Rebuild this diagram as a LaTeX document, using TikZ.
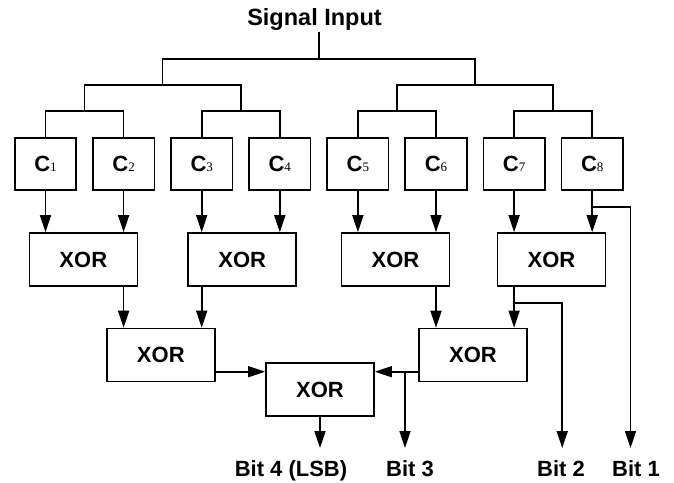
\documentclass[tikz,border=0pt]{standalone}
\usepackage{fontspec}
\setmainfont{Liberation Sans}
\newfontfamily\subfont{Liberation Serif}
\usetikzlibrary{positioning,arrows.meta,calc}

% channel label: bold C with a small serif index
\newcommand{\chan}[1]{C{\subfont\mdseries\fontsize{13}{13}\selectfont #1}}

\begin{document}
\begin{tikzpicture}[
  x=1pt, y=-1pt,
  font=\fontsize{22}{26}\selectfont\bfseries,
  cbox/.style={
    draw=black, line width=1.6pt,
    minimum width=61.5pt, minimum height=52pt,
    inner sep=0pt,
  },
  xorbox/.style={
    draw=black, line width=1.6pt,
    minimum width=108pt, minimum height=53pt,
    inner sep=0pt,
  },
  wire/.style={draw=black, line width=1.6pt},
  flow/.style={->, draw=black, line width=1.6pt, >={Triangle[length=17pt,width=11pt]}},
  lbl/.style={inner sep=0pt, anchor=base},
]
\useasboundingbox (0,0) rectangle (674,482);

% Input label
\node[lbl, inner sep=2pt, font=\fontsize{23.5}{26}\selectfont\bfseries] (sig) at (314.5,25) {Signal Input};

% Channel boxes
\node[cbox] (c1) at (45.5,164)  {\chan{1}};
\node[cbox] (c2) at (123.6,164) {\chan{2}};
\node[cbox] (c3) at (201.7,164) {\chan{3}};
\node[cbox] (c4) at (279.8,164) {\chan{4}};
\node[cbox] (c5) at (357.9,164) {\chan{5}};
\node[cbox] (c6) at (436,164)   {\chan{6}};
\node[cbox] (c7) at (514.1,164) {\chan{7}};
\node[cbox] (c8) at (592.2,164) {\chan{8}};

% XOR stages
\node[xorbox] (xor1) at (83.3,259.5)  {XOR};
\node[xorbox] (xor2) at (242.2,259.5) {XOR};
\node[xorbox] (xor3) at (395.5,259.5) {XOR};
\node[xorbox] (xor4) at (551.5,259.5) {XOR};
\node[xorbox] (xor12) at (160.8,355) {XOR};
\node[xorbox] (xor34) at (473,355)   {XOR};
\node[xorbox] (xorf) at (320,389.7)  {XOR};

% Output labels
\node[lbl] (bitfour)  at (291,476.5) {Bit 4 (LSB)};
\node[lbl] (bitthree) at (410,476.5) {Bit 3};
\node[lbl] (bittwo)   at (561,476.5) {Bit 2};
\node[lbl] (bitone)   at (636,476.5) {Bit 1};

% Splitting tree from the input down to the channels
\coordinate (g12) at ($(c1.north)!0.5!(c2.north)+(0,-26)$);
\coordinate (g34) at ($(c3.north)!0.5!(c4.north)+(0,-26)$);
\coordinate (g56) at ($(c5.north)!0.5!(c6.north)+(0,-26)$);
\coordinate (g78) at ($(c7.north)!0.5!(c8.north)+(0,-26)$);
\coordinate (g14) at ($(g12)!0.5!(g34)+(0,-26)$);
\coordinate (g58) at ($(g56)!0.5!(g78)+(0,-26)$);
\coordinate (t0)  at ($(g14)!0.5!(g58)+(0,-26)$);
\draw[wire] (c1.north) -- ++(0,-26) -| (c2.north);
\draw[wire] (c3.north) -- ++(0,-26) -| (c4.north);
\draw[wire] (c5.north) -- ++(0,-26) -| (c6.north);
\draw[wire] (c7.north) -- ++(0,-26) -| (c8.north);
\draw[wire] (g12) -- ++(0,-26) -| (g34);
\draw[wire] (g56) -- ++(0,-26) -| (g78);
\draw[wire] (g14) -- ++(0,-26) -| (g58);
\draw[wire] (sig.south -| t0) -- (t0);

% Channels into the first XOR row
\draw[flow] (c1.south) -- (c1.south |- xor1.north);
\draw[flow] (c2.south) -- (c2.south |- xor1.north);
\draw[flow] (c3.south) -- (c3.south |- xor2.north);
\draw[flow] (c4.south) -- (c4.south |- xor2.north);
\draw[flow] (c5.south) -- (c5.south |- xor3.north);
\draw[flow] (c6.south) -- (c6.south |- xor3.north);
\draw[flow] (c7.south) -- (c7.south |- xor4.north);
\draw[flow] (c8.south) -- (c8.south |- xor4.north);

% First row into second row
\draw[flow] (c2 |- xor1.south) -- (c2 |- xor12.north);
\draw[flow] (c3 |- xor2.south) -- (c3 |- xor12.north);
\draw[flow] (c6 |- xor3.south) -- (c6 |- xor34.north);
\draw[flow] (c7 |- xor4.south) -- (c7 |- xor34.north);

% Second row into the last XOR, with taps to the outputs
\coordinate (jin)    at (320,371.7);
\coordinate (outlev) at (320,448);
\coordinate (tap3)   at (405,371.7);
\coordinate (tap2)   at (562.2,302.7);
\coordinate (tap1)   at (630.5,206.7);
\draw[flow] (xor12.east |- jin) -- (xorf.west |- jin);
\draw[flow] (xor34.west |- jin) -- (xorf.east |- jin);
\draw[flow] (xorf.south) -- (xorf.south |- outlev);
\draw[flow] (tap3) -- (tap3 |- outlev);
\draw[flow] (c7 |- tap2) -| (tap2 |- outlev);
\draw[flow] (c8 |- tap1) -| (tap1 |- outlev);

\end{tikzpicture}
\end{document}
